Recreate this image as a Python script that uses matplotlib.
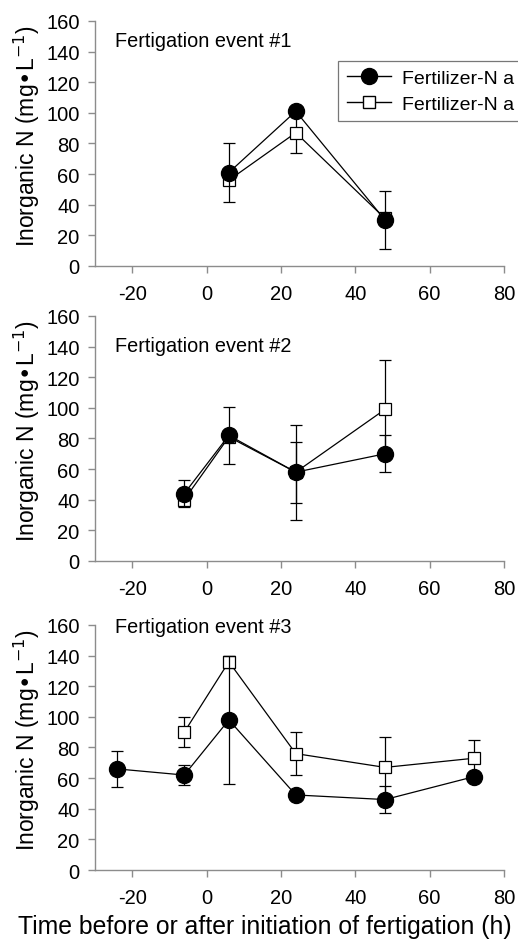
import matplotlib

matplotlib.use("Agg")

import matplotlib.pyplot as plt
from matplotlib.lines import Line2D

# Hours relative to start of fertigation, per event
x1 = [6, 24, 48]
x2 = [-6, 6, 24, 48]
x3_circ = [-24, -6, 6, 24, 48, 72]
x3_sq = [-6, 6, 24, 48, 72]

# Filled circles (series A) and open squares (series B), with error bars
circ1 = [61, 101, 30]
circ1_err = [19, 2, 19]
sq1 = [56, 87, 31]
sq1_err = [2, 13, 2]

circ2 = [44, 82, 58, 70]
circ2_err = [9, 18.5, 20, 12]
sq2 = [40, 81, 58, 99]
sq2_err = [3, 2, 31, 32]

circ3 = [66, 62, 98, 49, 46, 61]
circ3_err = [11.5, 6.5, 42, 2, 9, 2]
sq3 = [90, 136, 76, 67, 73]
sq3_err = [10, 4, 14, 20, 12]

titles = ["Fertigation event #1", "Fertigation event #2", "Fertigation event #3"]
# only the start of each legend entry is visible in the original figure
legend_labels = ["Fertilizer-N a", "Fertilizer-N a"]
xticks = [-20, 0, 20, 40, 60, 80]
yticks = [0, 20, 40, 60, 80, 100, 120, 140, 160]

plt.rcParams["font.family"] = ["Liberation Sans", "DejaVu Sans"]
plt.rcParams["axes.unicode_minus"] = False
plt.rcParams["xtick.direction"] = "out"
plt.rcParams["ytick.direction"] = "out"

fig = plt.figure(figsize=(5.18, 9.45), dpi=100)

panels = [
    (0.7175, x1, circ1, circ1_err, x1, sq1, sq1_err, 0.92),
    (0.4053, x2, circ2, circ2_err, x2, sq2, sq2_err, 0.88),
    (0.0783, x3_circ, circ3, circ3_err, x3_sq, sq3, sq3_err, 0.995),
]

grey = "#8c8c8c"
for n, (bottom, xc, yc, ec, xs, ys, es, ty) in enumerate(panels):
    ax = fig.add_axes((0.1834, bottom, 0.7896, 0.2593))
    ax.errorbar(xs, ys, yerr=es, color="black", lw=0.9, marker="s", ms=8.8,
                mfc="white", mec="black", mew=0.9, capsize=4.6, elinewidth=0.9,
                capthick=0.9, zorder=2)
    ax.errorbar(xc, yc, yerr=ec, color="black", lw=0.9, marker="o", ms=11.5,
                mfc="black", mec="black", capsize=4.6, elinewidth=0.9,
                capthick=0.9, zorder=3)
    ax.set_xlim(-30, 80)
    ax.set_ylim(0, 160)
    ax.set_xticks(xticks)
    ax.set_yticks(yticks)
    for side in ["top", "right"]:
        ax.spines[side].set_visible(False)
    for side in ["left", "bottom"]:
        ax.spines[side].set_color(grey)
        ax.spines[side].set_linewidth(1.0)
    ax.tick_params(colors=grey, labelcolor="black", labelsize=14.5, length=5, width=1.0)
    ax.tick_params(axis="x", pad=8)
    ax.tick_params(axis="y", pad=6)
    ax.set_ylabel("Inorganic N (mg\u2022L$^{-1}$)", fontsize=16.5)
    ax.yaxis.set_label_coords(-0.13, 0.535)
    ax.text(0.049, ty, titles[n], transform=ax.transAxes, fontsize=14.3,
            ha="left", va="center")
    if n == 0:
        handles = [
            Line2D([], [], color="black", lw=1.0, marker="o", ms=11.5, mfc="black"),
            Line2D([], [], color="black", lw=1.0, marker="s", ms=9, mfc="white"),
        ]
        leg = ax.legend(handles, legend_labels, loc="upper left",
                        bbox_to_anchor=(0.594, 0.837, 0.6, 0.0), mode="expand",
                        borderaxespad=0, fontsize=14, frameon=True, fancybox=False,
                        edgecolor="#555555", handlelength=2.3, borderpad=0.45,
                        labelspacing=0.4, handletextpad=0.55)
        leg.get_frame().set_linewidth(0.9)
    if n == 2:
        ax.set_xlabel("Time before or after initiation of fertigation (h)",
                      fontsize=17.8)
        ax.xaxis.set_label_coords(0.414, -0.18)

fig.savefig("out.png", dpi=100)
